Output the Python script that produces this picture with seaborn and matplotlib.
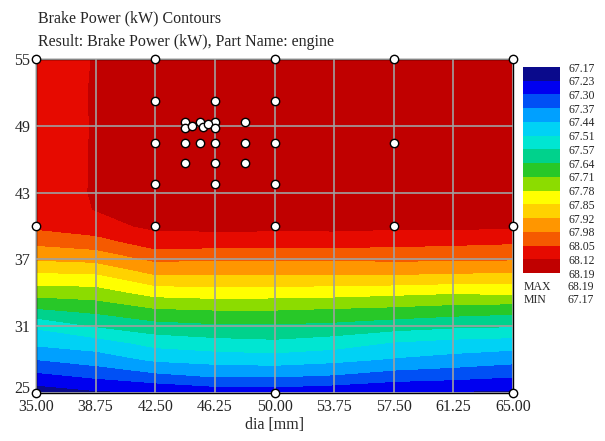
import numpy as np
import matplotlib
matplotlib.use("Agg")
import matplotlib.pyplot as plt
import matplotlib.transforms as mtransforms
import seaborn as sns
import pandas as pd

# grid (x = dia, y = second design variable)
dia_mm = [35.00, 38.75, 42.50, 46.25, 50.00, 53.75, 57.50, 61.25, 65.00]
y_rows = [25, 26.5, 28, 29.5, 31, 32.5, 34, 35.5, 37, 38.5, 40, 41.5, 43, 46, 49, 52, 55]

power_kw = [
    [67.196, 67.225, 67.232, 67.258, 67.265, 67.250, 67.235, 67.228, 67.225],
    [67.285, 67.317, 67.354, 67.378, 67.378, 67.366, 67.338, 67.326, 67.310],
    [67.374, 67.406, 67.452, 67.467, 67.475, 67.459, 67.435, 67.416, 67.396],
    [67.457, 67.478, 67.533, 67.552, 67.562, 67.542, 67.505, 67.487, 67.478],
    [67.520, 67.581, 67.618, 67.633, 67.635, 67.626, 67.606, 67.589, 67.581],
    [67.640, 67.666, 67.708, 67.717, 67.717, 67.708, 67.698, 67.684, 67.672],
    [67.739, 67.749, 67.805, 67.815, 67.811, 67.807, 67.797, 67.786, 67.796],
    [67.831, 67.835, 67.910, 67.912, 67.912, 67.910, 67.910, 67.903, 67.898],
    [67.923, 67.936, 67.997, 67.990, 67.990, 67.990, 67.996, 67.992, 67.989],
    [67.998, 68.020, 68.087, 68.082, 68.079, 68.080, 68.072, 68.066, 68.058],
    [68.068, 68.099, 68.135, 68.140, 68.140, 68.140, 68.135, 68.135, 68.135],
    [68.085, 68.124, 68.150, 68.160, 68.160, 68.155, 68.150, 68.150, 68.150],
    [68.095, 68.126, 68.160, 68.175, 68.170, 68.165, 68.160, 68.160, 68.160],
    [68.100, 68.125, 68.170, 68.185, 68.180, 68.175, 68.170, 68.165, 68.165],
    [68.105, 68.124, 68.175, 68.190, 68.190, 68.180, 68.170, 68.170, 68.165],
    [68.108, 68.124, 68.170, 68.185, 68.185, 68.175, 68.170, 68.165, 68.165],
    [68.110, 68.123, 68.165, 68.180, 68.180, 68.170, 68.165, 68.160, 68.160],
]

# design points (white markers)
pts_x = [35, 42.5, 50, 57.5, 65,
         35, 42.5, 50, 57.5, 65,
         35, 50, 65,
         42.5, 46.25, 50,
         42.5, 44.375, 45.3125, 46.25, 48.125, 50, 57.5,
         44.375, 45.3125, 46.25, 48.125,
         44.375, 46.25, 48.125,
         42.5, 46.25, 50,
         44.4, 44.8, 45.5, 45.8, 46.25]
pts_y = [55, 55, 55, 55, 55,
         40, 40, 40, 40, 40,
         25, 25, 25,
         51.25, 51.25, 51.25,
         47.5, 47.5, 47.5, 47.5, 47.5, 47.5, 47.5,
         49.375, 49.375, 49.375, 49.375,
         45.625, 45.625, 45.625,
         43.75, 43.75, 43.75,
         48.8, 49.0, 48.9, 49.2, 48.8]

level_labels = ["67.17", "67.23", "67.30", "67.37", "67.44", "67.51", "67.57", "67.64",
                "67.71", "67.78", "67.85", "67.92", "67.98", "68.05", "68.12", "68.19"]
x_ticks = [35.00, 38.75, 42.50, 46.25, 50.00, 53.75, 57.50, 61.25, 65.00]
y_ticks = [25, 31, 37, 43, 49, 55]

band_colors = ["#0a0a8c", "#0000f0", "#0050f5", "#00a0ff", "#00d2f5",
               "#00e6d2", "#00d28c", "#28c828", "#8cdc00", "#ffff00",
               "#ffd200", "#ff9600", "#f55a00", "#e60a00", "#c00000"]


def main():
    sns.set_style("white")
    plt.rcParams['font.family'] = ['Liberation Serif', 'DejaVu Serif']

    fig = plt.figure(figsize=(6.05, 4.41), dpi=100)
    ax = fig.add_axes([36 / 605, 48 / 441, 477 / 605, 334 / 441])

    levels = np.linspace(67.17, 68.19, 16)
    X, Y = np.meshgrid(dia_mm, y_rows)
    Z = np.array(power_kw)
    cs = ax.contourf(X, Y, Z, levels=levels, colors=band_colors, zorder=1)

    pts = pd.DataFrame({"dia": pts_x, "y": pts_y})
    sns.scatterplot(data=pts, x="dia", y="y", ax=ax, s=36, color="white",
                    edgecolor="black", linewidth=1.0, zorder=5, clip_on=False)

    ax.set_xlim(35, 65)
    ax.set_ylim(25, 55)
    ax.set_xticks(x_ticks)
    ax.set_xticklabels([f"{v:.2f}" for v in x_ticks])
    ax.set_yticks(y_ticks)
    ax.set_yticklabels([str(v) for v in y_ticks])
    ax.tick_params(length=0, labelsize=11.5, pad=4)
    # lift the bottom "25" a little so it sits above the "35.00"
    lbl25 = ax.get_yticklabels()[0]
    lbl25.set_transform(lbl25.get_transform() +
                        mtransforms.ScaledTranslation(0, 4 / 72, fig.dpi_scale_trans))
    ax.set_axisbelow(False)
    ax.grid(True, color="#a0a0a0", lw=1.2)
    for s in ax.spines.values():
        s.set_color("black")
        s.set_linewidth(1.0)
    ax.set_xlabel("dia [mm]", fontsize=11.5, labelpad=2)
    ax.set_ylabel("")

    # legend bar, low values on top
    cax = fig.add_axes([523 / 605, (441 - 273) / 441, 37 / 605, 206 / 441])
    cb = fig.colorbar(cs, cax=cax, ticks=levels)
    cb.outline.set_visible(False)
    cax.invert_yaxis()
    cax.set_yticklabels(level_labels)
    cax.tick_params(length=0, labelsize=8.5, pad=6)

    fig.text(524 / 605, 1 - 287 / 441, "MAX", fontsize=8.5, va="center")
    fig.text(524 / 605, 1 - 300 / 441, "MIN", fontsize=8.5, va="center")
    fig.text(568 / 605, 1 - 287 / 441, level_labels[-1], fontsize=8.5, va="center")
    fig.text(568 / 605, 1 - 300 / 441, level_labels[0], fontsize=8.5, va="center")

    fig.text(38 / 605, 1 - 18 / 441, "Brake Power (kW) Contours", fontsize=11.5, va="center")
    fig.text(38 / 605, 1 - 42 / 441, "Result: Brake Power (kW), Part Name: engine",
             fontsize=11.5, va="center")

    fig.savefig("out.png", dpi=100)
    plt.close(fig)


if __name__ == "__main__":
    main()
